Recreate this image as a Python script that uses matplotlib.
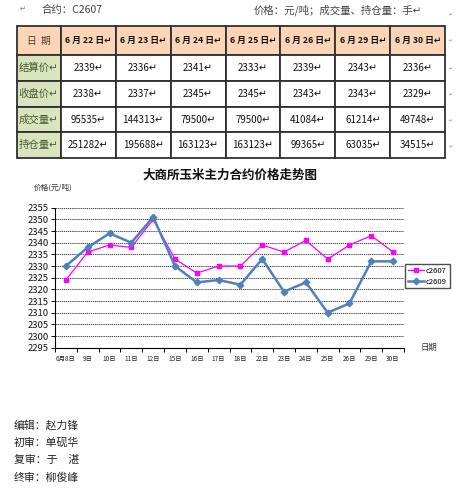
import matplotlib
matplotlib.use("Agg")
import matplotlib.pyplot as plt

plt.rcParams['font.family'] = ['Noto Sans CJK SC', 'DejaVu Sans']

# table data
table_days = ["6 月 22 日", "6 月 23 日", "6 月 24 日", "6 月 25 日", "6 月 26 日", "6 月 29 日", "6 月 30 日"]
row_names = ["结算价", "收盘价", "成交量", "持仓量"]
settle = [2339, 2336, 2341, 2333, 2339, 2343, 2336]
close = [2338, 2337, 2345, 2345, 2343, 2343, 2329]
volume = [95535, 144313, 79500, 79500, 41084, 61214, 49748]
open_int = [251282, 195688, 163123, 163123, 99365, 63035, 34515]

# chart data
dates = ["6月8日", "9日", "10日", "11日", "12日", "15日", "16日", "17日", "18日",
         "22日", "23日", "24日", "25日", "26日", "29日", "30日"]
c2607 = [2324, 2336, 2339, 2338, 2350, 2333, 2327, 2330, 2330, 2339, 2336, 2341, 2333, 2339, 2343, 2336]
c2609 = [2330, 2338, 2344, 2340, 2351, 2330, 2323, 2324, 2322, 2333, 2319, 2323, 2310, 2314, 2332, 2332]

W, H = 467, 500
fig = plt.figure(figsize=(W / 100, H / 100), dpi=100)

def fx(px): return px / W
def fy(py): return 1 - py / H

# header text
fig.text(fx(20), fy(9), "↵", fontsize=5, color="#777777", va="center")
fig.text(fx(42), fy(10), "合约：C2607", fontsize=7.5, color="#444444", va="center")
fig.text(fx(254), fy(10), "价格：元/吨；成交量、持仓量：手↵", fontsize=7.5, color="#444444", va="center")

# table
tax = fig.add_axes([fx(16.7), fy(158.3), fx(445.3) - fx(16.7), fy(26) - fy(158.3)])
tax.axis("off")
cells = [["日  期"] + [d + "↵" for d in table_days]]
for name, vals in zip(row_names, [settle, close, volume, open_int]):
    cells.append([name + "↵"] + [f"{v}↵" for v in vals])
col_w = [44] + [55] * 7
tbl = tax.table(cellText=cells, colWidths=[w / sum(col_w) for w in col_w],
                cellLoc="center", bbox=[0, 0, 1, 1])
tbl.auto_set_font_size(False)
for (r, c), cell in tbl.get_celld().items():
    cell.set_height(29 if r == 0 else 25.8)
    cell.set_edgecolor("#303030")
    cell.set_linewidth(1.3)
    txt = cell.get_text()
    txt.set_fontsize(7)
    txt.set_color("#111111")
    if r == 0:
        cell.set_facecolor("#FBD5B5")
        if c > 0:
            txt.set_fontweight("semibold")
            txt.set_fontsize(6.3)
        else:
            txt.set_color("#4a3a2a")
    elif c == 0:
        cell.set_facecolor("#D7E4BD")
        txt.set_color("#4a5a30")
        txt.set_fontsize(7.5)
    else:
        cell.set_facecolor("white")

# little paragraph marks at right of table
for py in [14, 40, 68, 94, 120, 146]:
    fig.text(fx(449), fy(py), "↵", fontsize=3.5, color="#999999", va="center")

# chart
ax = fig.add_axes([fx(55), fy(347.7), fx(404) - fx(55), fy(207.7) - fy(347.7)])
x = list(range(len(dates)))
ax.plot(x, c2607, color="#FF00FF", lw=0.9, marker="s", ms=3.3, label="c2607", zorder=3)
ax.plot(x, c2609, color="#4F81BD", lw=1.8, marker="D", ms=3.3, label="c2609", zorder=4)
ax.set_ylim(2295, 2355)
ax.set_yticks(range(2295, 2356, 5))
ax.set_xlim(-0.5, len(dates) - 0.5)
ax.set_xticks([i - 0.5 for i in range(len(dates) + 1)])
ax.set_xticklabels([])
ax.set_xticks(x, minor=True)
ax.set_xticklabels(dates, minor=True, fontsize=4.6, color="#222222")
ax.tick_params(axis="x", which="major", length=3, width=0.7, direction="out")
ax.tick_params(axis="x", which="minor", length=0, pad=5)
ax.tick_params(axis="y", labelsize=6.8, length=3, width=0.7, pad=1.5, colors="#111111")
for v in range(2300, 2356, 5):
    ax.axhline(v, color="#222222", lw=0.6, ls=(0, (1.5, 1)), zorder=1)
for s in ["top", "right"]:
    ax.spines[s].set_visible(False)
ax.spines["left"].set_linewidth(0.8)
ax.spines["bottom"].set_linewidth(0.8)

fig.text(fx(230), fy(175), "大商所玉米主力合约价格走势图", fontsize=9, fontweight="bold",
         ha="center", va="center", color="#111111")
fig.text(fx(34), fy(188), "价格(元/吨)", fontsize=5.5, color="#333333", va="center")
fig.text(fx(421), fy(347), "日期", fontsize=6, color="#333333", va="center")

leg = ax.legend(loc="upper left", bbox_to_anchor=(fx(405), fy(264)), bbox_transform=fig.transFigure,
                fontsize=5.5, frameon=True, fancybox=False, edgecolor="#222222",
                handlelength=2.2, handletextpad=0.2, borderpad=0.35, labelspacing=0.4,
                borderaxespad=0)
leg.get_frame().set_linewidth(1.0)

# footer
footer = ["编辑：赵力锋", "初审：单砚华", "复审：于　湛", "终审：柳俊峰"]
for i, t in enumerate(footer):
    fig.text(fx(14), fy(425 + i * 17.5), t, fontsize=7.8, color="#222222", va="center")

fig.savefig("out.png", dpi=100)
